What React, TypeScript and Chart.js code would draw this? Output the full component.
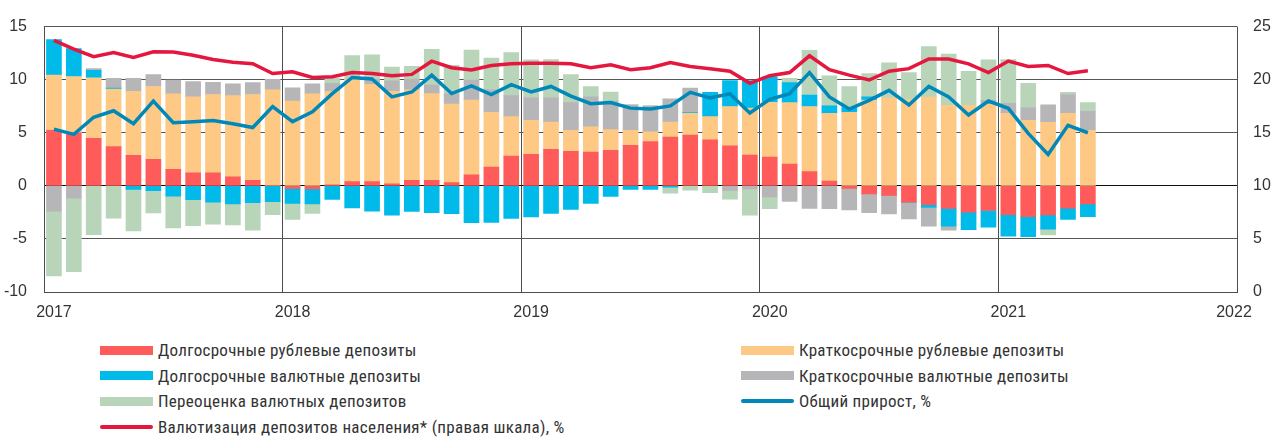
import React, { useEffect, useRef } from 'react';
import { Chart, registerables } from 'chart.js';

Chart.register(...registerables);

// Year tick labels (x axis)
const yearLabels = ['2017', '2018', '2019', '2020', '2021', '2022'];
// Label positions (in months from Jan 2017) and year boundaries
const yearLabelPos = [0.5, 12.5, 24.5, 36.5, 48.5, 59.85];
const yearGridPos = [0, 12, 24, 36, 48, 60];

// Monthly data, Jan 2017 .. May 2021 (53 months), p.p.
const longRub = [
  5.24, 5.0, 4.48, 3.69, 2.87, 2.5, 1.55, 1.22, 1.22, 0.85, 0.52, 0.05,
  -0.24, -0.3, 0.09, 0.4, 0.4, 0.18, 0.52, 0.52, 0.3, 1.04, 1.77, 2.8,
  2.96, 3.45, 3.26, 3.17, 3.35, 3.81, 4.18, 4.6, 4.79, 4.33, 3.78, 2.9,
  2.71, 2.04, 1.34, 0.46, -0.24, -0.76, -0.91, -1.55, -1.77, -2.13, -2.47, -2.32,
  -2.71, -2.9, -2.74, -2.1, -1.71,
];
const shortRub = [
  5.19, 5.3, 5.7, 5.43, 6.03, 6.86, 7.11, 7.16, 7.38, 7.65, 8.08, 9.0,
  7.99, 8.66, 8.81, 9.63, 9.17, 8.72, 8.53, 8.17, 7.41, 7.04, 5.15, 3.72,
  3.2, 2.55, 1.98, 2.38, 1.95, 1.43, 0.91, 1.4, 2.04, 2.19, 3.69, 4.42,
  5.15, 5.8, 6.13, 6.37, 6.92, 8.08, 8.29, 8.14, 8.35, 7.59, 7.59, 7.68,
  6.83, 6.16, 5.98, 6.83, 5.24,
];
const longFx = [
  3.35, 2.63, 0.7, 0.08, -0.34, -0.46, -0.98, -1.31, -1.55, -1.7, -1.59, -1.49,
  -1.41, -1.4, -1.28, -2.07, -2.38, -2.77, -2.41, -2.53, -2.62, -3.48, -3.45, -3.08,
  -2.93, -2.59, -2.23, -1.65, -1.0, -0.34, -0.34, -0.12, 0.06, 2.29, 2.44, 2.59,
  2.41, 1.89, 1.07, 0.7, 0.46, 0.3, 0, 0, -0.27, -1.68, -1.65, -1.58,
  -2.02, -1.89, -1.35, -1.07, -1.19,
];
const shortFx = [
  -2.38, -1.16, 0.16, 0.92, 1.22, 1.13, 1.31, 1.44, 1.16, 1.1, 1.13, 0.98,
  1.25, 0.94, 0.76, 0, 0.46, 0.98, 1.01, 0.79, 0.95, 1.89, 2.13, 1.98,
  2.13, 2.29, 2.6, 2.83, 2.69, 2.38, 2.44, 2.2, 2.32, 0, -0.43, -0.3,
  -1.05, -1.46, -2.13, -2.16, -2.02, -1.77, -1.74, -1.56, -1.77, -0.37, 0, 0.37,
  0.94, 1.22, 1.64, 1.77, 1.77,
];
const revaluation = [
  -6.1, -6.92, -4.6, -3.05, -3.9, -2.1, -2.98, -2.44, -2.05, -1.99, -2.59, -1.22,
  -1.52, -0.89, 0.46, 2.23, 2.32, 1.31, 1.19, 3.39, 2.68, 2.83, 2.99, 4.06,
  3.57, 3.6, 2.65, 0.98, 0.85, 0, 0, -0.58, -0.4, -0.64, -0.82, -2.47,
  -1.1, 0.39, 4.23, 2.84, 1.98, 2.2, 3.3, 2.53, 4.76, 4.82, 3.2, 3.81,
  4.12, 2.28, -0.54, 0.21, 0.83,
];
const totalGrowth = [
  5.34, 4.85, 6.46, 7.07, 5.85, 7.99, 5.95, 6.04, 6.16, 5.85, 5.49, 7.47,
  6.05, 6.98, 8.69, 10.21, 10.06, 8.38, 8.84, 10.43, 8.69, 9.42, 8.6, 9.54,
  8.84, 9.36, 8.45, 7.74, 7.84, 7.32, 7.23, 7.53, 8.81, 8.29, 8.66, 6.86,
  8.14, 8.69, 10.67, 8.38, 7.23, 8.05, 8.99, 7.62, 9.36, 8.38, 6.68, 7.99,
  7.3, 4.94, 2.96, 5.7, 5.0,
];
// Right axis, %
const dollarization = [
  23.7, 22.87, 22.16, 22.56, 22.1, 22.62, 22.6, 22.3, 21.9, 21.65, 21.5, 20.58,
  20.75, 20.21, 20.27, 20.67, 20.58, 20.37, 20.5, 21.74, 21.13, 20.91, 21.34, 21.49,
  21.55, 21.55, 21.49, 21.13, 21.4, 20.94, 21.13, 21.62, 21.25, 21.04, 20.8, 19.66,
  20.38, 20.67, 22.25, 20.94, 20.43, 19.97, 20.8, 21.04, 21.95, 21.95, 21.49, 20.67,
  21.75, 21.25, 21.34, 20.58, 20.85,
];

const seriesNames = {
  longRub: 'Долгосрочные рублевые депозиты',
  shortRub: 'Краткосрочные рублевые депозиты',
  longFx: 'Долгосрочные валютные депозиты',
  shortFx: 'Краткосрочные валютные депозиты',
  reval: 'Переоценка валютных депозитов',
  total: 'Общий прирост, %',
  dollar: 'Валютизация депозитов населения* (правая шкала), %',
};

const COLORS = {
  longRub: '#FF5B5B',
  shortRub: '#FDC985',
  longFx: '#00BAEA',
  shortFx: '#B6B6B8',
  reval: '#B8D4B9',
  total: '#0088B9',
  dollar: '#E5173E',
};

const TICK_FONT = '"Liberation Sans", Arial, sans-serif';
const TEXT_FONT = '"Liberation Sans Narrow", "Roboto Condensed", "Liberation Sans", sans-serif';

const toXY = (arr: number[]) => arr.map((v, i) => ({ x: i + 0.5, y: v }));

function LegendItem({ left, top, color, line, label }: { left: number; top: number; color: string; line?: boolean; label: string }) {
  return (
    <div style={{ position: 'absolute', left, top: top - 10, height: 20, display: 'flex', alignItems: 'center', whiteSpace: 'nowrap' }}>
      <div
        style={{
          width: 53,
          height: line ? 4 : 9,
          background: color,
          borderRadius: line ? 2 : 0,
          marginRight: 5,
        }}
      />
      <span style={{ fontFamily: TEXT_FONT, fontSize: 17, letterSpacing: 0.3, color: '#333' }}>{label}</span>
    </div>
  );
}

export default function App() {
  const canvasRef = useRef<HTMLCanvasElement | null>(null);

  useEffect(() => {
    document.body.style.margin = '0';
    const canvas = canvasRef.current;
    if (!canvas) return;
    const barCommon = { type: 'bar' as const, barThickness: 15, borderWidth: 0, yAxisID: 'y', xAxisID: 'x', stack: 'bars' };
    const chart = new Chart(canvas, {
      data: {
        datasets: [
          {
            type: 'line',
            label: seriesNames.dollar,
            data: toXY(dollarization),
            borderColor: COLORS.dollar,
            backgroundColor: COLORS.dollar,
            borderWidth: 3.5,
            pointRadius: 0,
            tension: 0,
            yAxisID: 'y1',
            xAxisID: 'x',
            stack: 'dollar',
          },
          {
            type: 'line',
            label: seriesNames.total,
            data: toXY(totalGrowth),
            borderColor: COLORS.total,
            backgroundColor: COLORS.total,
            borderWidth: 3.5,
            pointRadius: 0,
            tension: 0,
            yAxisID: 'y',
            xAxisID: 'x',
            stack: 'total',
          },
          { ...barCommon, label: seriesNames.longRub, data: toXY(longRub), backgroundColor: COLORS.longRub },
          { ...barCommon, label: seriesNames.shortRub, data: toXY(shortRub), backgroundColor: COLORS.shortRub },
          { ...barCommon, label: seriesNames.longFx, data: toXY(longFx), backgroundColor: COLORS.longFx },
          { ...barCommon, label: seriesNames.shortFx, data: toXY(shortFx), backgroundColor: COLORS.shortFx },
          { ...barCommon, label: seriesNames.reval, data: toXY(revaluation), backgroundColor: COLORS.reval },
        ] as any,
      },
      options: {
        animation: false,
        responsive: false,
        maintainAspectRatio: false,
        layout: { padding: { top: 19, left: 0, right: 0, bottom: 0 } },
        plugins: { legend: { display: false }, tooltip: { enabled: false } },
        scales: {
          x: {
            type: 'linear',
            position: 'bottom',
            min: 0,
            max: 60,
            stacked: true,
            offset: false,
            afterBuildTicks: (scale: any) => {
              scale.ticks = yearGridPos.map((v) => ({ value: v }));
            },
            afterFit: (scale: any) => {
              scale.height = 0;
            },
            ticks: { display: false },
            grid: { offset: false, color: '#4d4d4d', lineWidth: 1, drawTicks: false },
            border: { display: true, color: '#4d4d4d', width: 1 },
          },
          xl: {
            type: 'linear',
            position: 'bottom',
            min: 0,
            max: 60,
            afterBuildTicks: (scale: any) => {
              scale.ticks = yearLabelPos.map((v) => ({ value: v }));
            },
            afterFit: (scale: any) => {
              scale.height = 38;
            },
            ticks: {
              autoSkip: false,
              maxRotation: 0,
              padding: 11,
              color: '#333',
              font: { family: TICK_FONT, size: 16 },
              callback: (_v: any, i: number) => yearLabels[i],
            },
            grid: { display: false, drawTicks: false },
            border: { display: false },
          },
          y: {
            type: 'linear',
            position: 'left',
            min: -10,
            max: 15,
            stacked: true,
            afterFit: (scale: any) => {
              scale.width = 44;
            },
            ticks: {
              stepSize: 5,
              padding: 17,
              color: '#333',
              font: { family: TICK_FONT, size: 16 },
            },
            grid: {
              drawTicks: false,
              lineWidth: 1,
              color: (ctx: any) => (ctx.tick && ctx.tick.value === 0 ? '#111' : '#555'),
            },
            border: { display: true, color: '#4d4d4d', width: 1 },
          },
          y1: {
            type: 'linear',
            position: 'right',
            min: 0,
            max: 25,
            afterFit: (scale: any) => {
              scale.width = 40;
            },
            ticks: {
              stepSize: 5,
              padding: 16,
              color: '#333',
              font: { family: TICK_FONT, size: 16 },
            },
            grid: { drawOnChartArea: false, drawTicks: false },
            border: { display: false },
          },
        },
      } as any,
    });
    return () => chart.destroy();
  }, []);

  const L1 = 100;
  const L2 = 741;
  const rows = [350, 375.5, 401, 426.5];

  return (
    <div style={{ position: 'relative', width: 1277, height: 439, background: '#fff', overflow: 'hidden' }}>
      <canvas ref={canvasRef} width={1277} height={330} style={{ display: 'block', width: 1277, height: 330 }} />
      <LegendItem left={L1} top={rows[0]} color={COLORS.longRub} label={seriesNames.longRub} />
      <LegendItem left={L2} top={rows[0]} color={COLORS.shortRub} label={seriesNames.shortRub} />
      <LegendItem left={L1} top={rows[1]} color={COLORS.longFx} label={seriesNames.longFx} />
      <LegendItem left={L2} top={rows[1]} color={COLORS.shortFx} label={seriesNames.shortFx} />
      <LegendItem left={L1} top={rows[2]} color={COLORS.reval} label={seriesNames.reval} />
      <LegendItem left={L2} top={rows[2]} color={COLORS.total} line label={seriesNames.total} />
      <LegendItem left={L1} top={rows[3]} color={COLORS.dollar} line label={seriesNames.dollar} />
    </div>
  );
}
